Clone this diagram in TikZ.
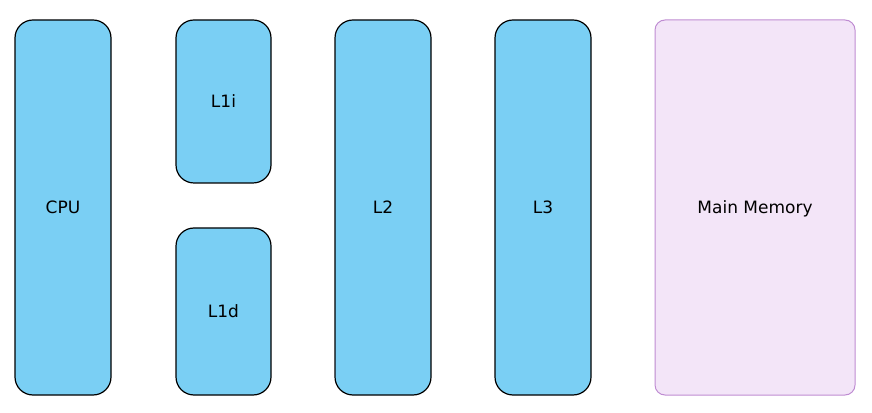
\documentclass[tikz,border=0pt]{standalone}
\usepackage{fontspec}
\setmainfont{DejaVu Sans}
\usetikzlibrary{positioning}
\definecolor{cacheblue}{HTML}{7ACFF4}
\definecolor{memfill}{HTML}{F3E5F8}
\definecolor{memline}{HTML}{BF8CD2}
\begin{document}
\begin{tikzpicture}[x=1pt,y=1pt]
\tikzstyle{unit}=[rectangle,draw=black,fill=cacheblue,line width=1.2pt,rounded corners=18pt,minimum width=96pt,inner sep=0pt,text depth=0pt,font=\fontsize{17}{20}\selectfont]
\tikzstyle{mem}=[rectangle,draw=memline,fill=memfill,line width=1pt,rounded corners=10pt,minimum width=200pt,minimum height=375pt,inner sep=0pt,text depth=0pt,font=\fontsize{17}{20}\selectfont]
\useasboundingbox (0,0) rectangle (872,412);
\node[unit,minimum height=375pt] at (63, 204.5) (cpu) {CPU};
\node[unit,minimum width=95pt,minimum height=163pt] at (223.5, 310.5) (l1i) {L1i};
\node[unit,minimum width=95pt,minimum height=167pt] at (223.5, 100.5) (l1d) {L1d};
\node[unit,minimum height=375pt] at (383, 204.5) (l2) {L2};
\node[unit,minimum height=375pt] at (543, 204.5) (l3) {L3};
\node[mem] at (755, 204.5) (mem) {Main Memory};
\end{tikzpicture}
\end{document}
